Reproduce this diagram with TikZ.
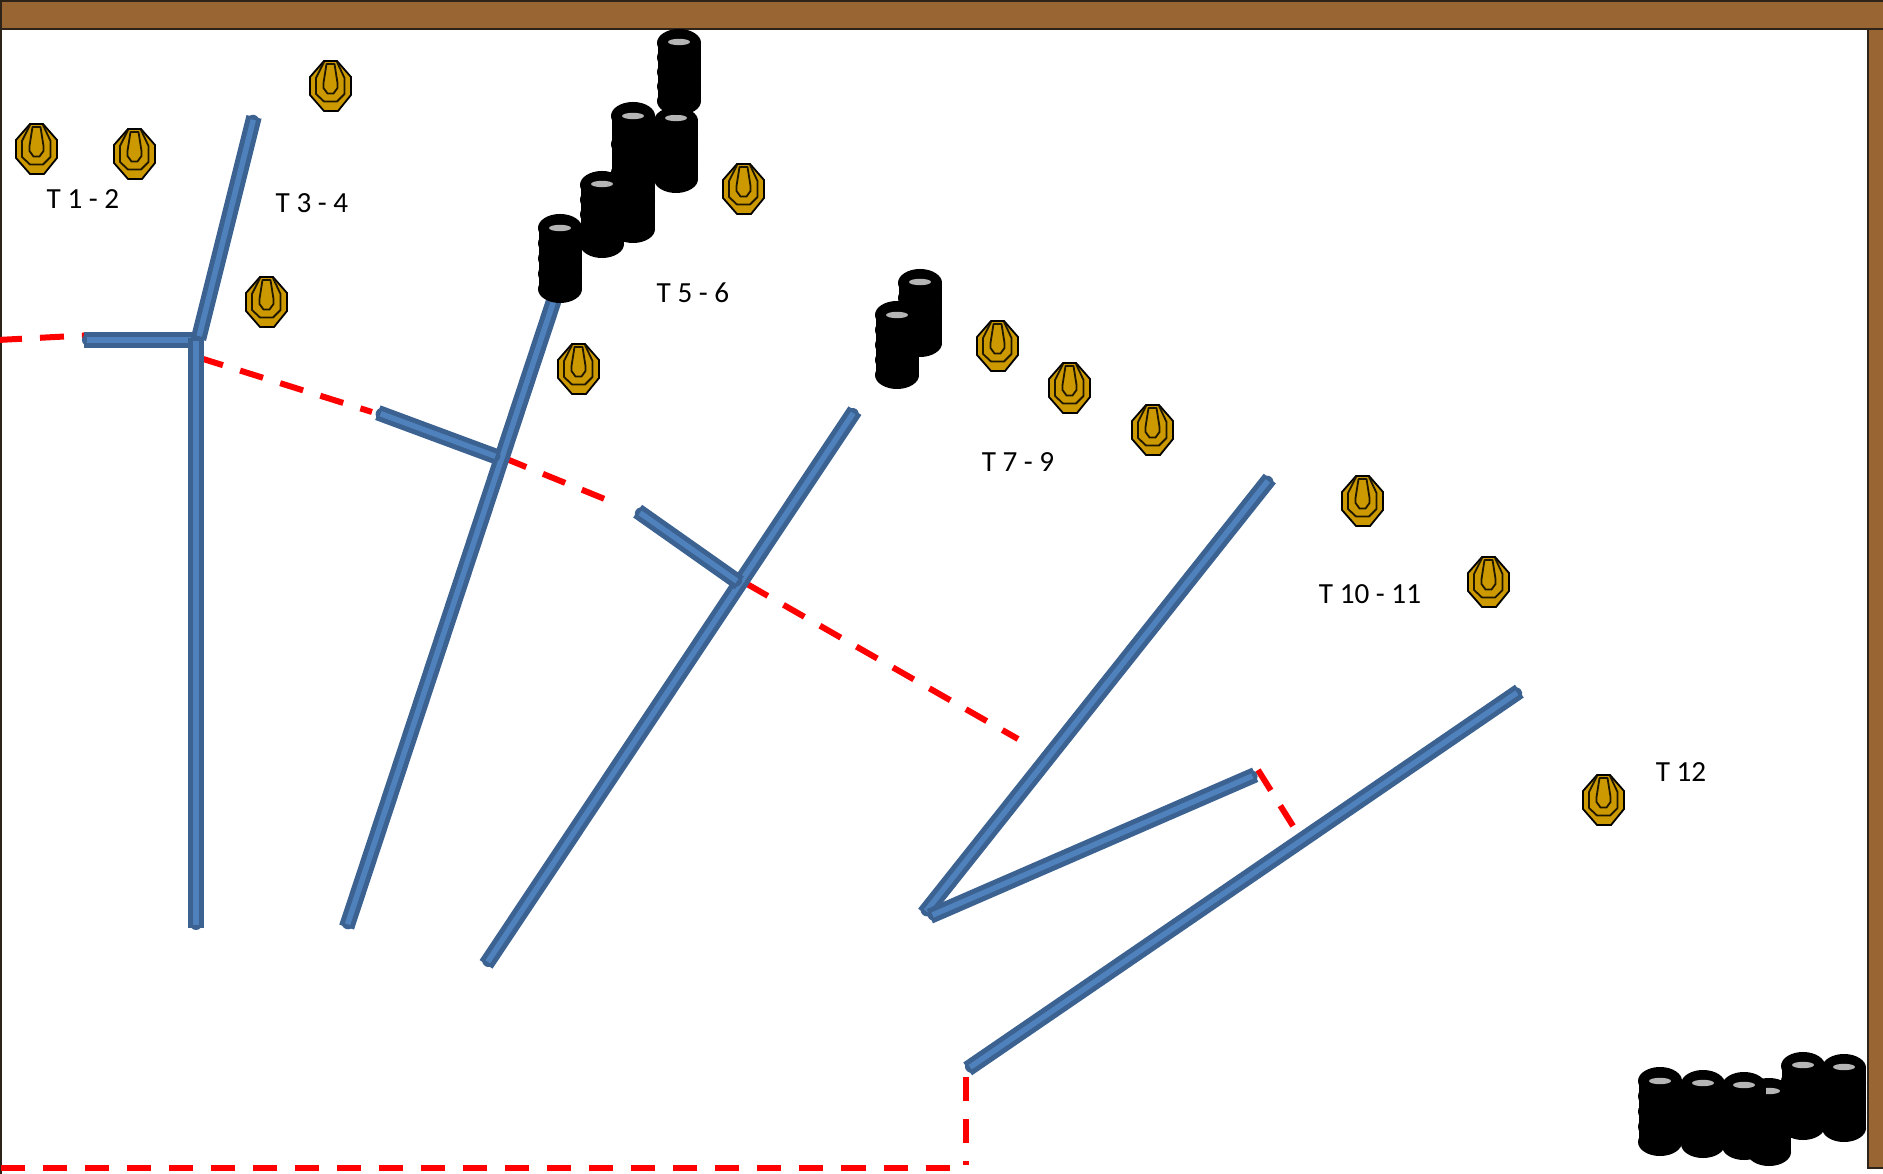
\documentclass[tikz,border=0pt]{standalone}
\usepackage{fontspec}
\setmainfont{Carlito}
\definecolor{woodfill}{HTML}{996633}
\definecolor{wooddark}{HTML}{2E2318}
\definecolor{wallouter}{HTML}{3B6291}
\definecolor{wallinner}{HTML}{4F81BD}
\definecolor{goldfill}{HTML}{CC9900}
\definecolor{holegray}{HTML}{B5B5B5}
\tikzset{
  woodbar/.style={fill=woodfill,draw=wooddark,line width=0.025cm},
  wallout/.style={draw=wallouter,line width=0.155cm,line join=round,shorten <=0.02cm,shorten >=0.02cm},
  wallend/.style={draw=wallouter,line width=0.125cm,line cap=round,shorten <=0.0625cm,shorten >=0.0625cm},
  wallin/.style={draw=wallinner,line width=0.055cm,shorten <=0.05cm,shorten >=0.05cm},
  reddash/.style={draw=red,line width=0.06cm,dash pattern=on 0.24cm off 0.18cm},
  tlabel/.style={font=\fontsize{8.3pt}{10pt}\selectfont,text=black,inner sep=0pt},
  target/.pic={
    \draw[fill=goldfill,draw=black,line width=0.018cm]
      (-6,-25)--(7,-25)--(21,-9)--(21,9)--(8,25)--(-6,25)--(-20,9)--(-20,-9)--cycle;
    \draw[draw=black!85!goldfill,line width=0.018cm,line join=round]
      (-6,-24)--(-14,-8)--(-14,8)--(-6,15.5)--(7,15.5)--(14.5,8)--(14.5,-8)--(7,-24);
    \draw[draw=black!85!goldfill,line width=0.018cm,line join=round]
      (-3.5,-22)--(4.5,-22)--(7.5,-3)--(7.5,2)--(3.5,7.5)--(-2.5,7.5)--(-6.5,2)--(-6.5,-3)--cycle;
  }
}
\newcommand{\wallseg}[2]{\draw[wallout] #1 -- #2; \draw[wallend] #1 -- #2; \draw[wallin] #1 -- #2;}
\newcommand{\barrel}[4]{%
  \fill[black] (#1-21.5,#2+14) rectangle (#1+21.5,#3-14);
  \foreach \i in {0,...,4} {
    \pgfmathsetmacro{\yy}{#2+14+\i*(#3-#2-28)/4}
    \fill[black] (#1,\yy) ellipse [x radius=0.22cm,y radius=0.14cm];
  }
  \fill[holegray] (#1,#4) ellipse [x radius=0.11cm,y radius=0.032cm];
}
\begin{document}
\begin{tikzpicture}[x=0.01cm,y=-0.01cm]
\useasboundingbox (0,0) rectangle (1883,1174);
\clip (0,0) rectangle (1883,1174);
\fill[white] (0,0) rectangle (1883,1174);
% frame
\draw[woodbar] (-3,1) rectangle (1890,29);
\draw[woodbar] (1868,29) rectangle (1890,1168);
\draw[wooddark,line width=0.025cm] (1,0) -- (1,1174);
% red dashes
\draw[reddash] (-2,340) -- (84,335.5);
\draw[reddash] (200,358) -- (372,412);
\draw[reddash] (504,458) -- (612,502);
\draw[reddash] (747,584) -- (1018,739);
\draw[reddash] (1258,770) -- (1293,826);
\draw[reddash] (966,1077) -- (966,1165);
\draw[reddash] (1,1168) -- (966,1168);
% walls
\wallseg{(82,340)}{(196,340)}
\wallseg{(196,336)}{(196,930)}
\wallseg{(254.5,115)}{(198,341)}
\wallseg{(558,288)}{(346,929)}
\wallseg{(376,412)}{(500,458)}
\wallseg{(856,409)}{(485,966)}
\wallseg{(636,510)}{(741,584)}
\wallseg{(1271,477)}{(923,915)}
\wallseg{(1257,774)}{(928,917)}
\wallseg{(1521,690)}{(966,1070)}
% barrels
\barrel{676}{107}{193}{118}
\barrel{679}{29}{115}{42}
\barrel{633}{102}{243}{116}
\barrel{602}{171}{258}{184}
\barrel{560}{214}{303}{228}
\barrel{920}{269}{357}{282}
\barrel{897}{301}{389}{315}
\barrel{1769}{1078}{1166}{1091}
\barrel{1660}{1067}{1156}{1081}
\barrel{1703}{1070}{1158}{1083}
\barrel{1744}{1072}{1160}{1085}
\barrel{1803}{1052}{1140}{1065}
\barrel{1844}{1054}{1142}{1067}
% targets
\pic at (36,149) {target};
\pic at (134,154) {target};
\pic at (330,86) {target};
\pic at (266,302) {target};
\pic at (743,189) {target};
\pic at (578,369) {target};
\pic at (997,346) {target};
\pic at (1069,388) {target};
\pic at (1152,430) {target};
\pic at (1362,501) {target};
\pic at (1488,582) {target};
\pic at (1603,800) {target};
% labels
\node[tlabel] (t12) at (83,199) {T 1 - 2};
\node[tlabel] (t34) at (312,203) {T 3 - 4};
\node[tlabel] (t56) at (693,293) {T 5 - 6};
\node[tlabel] (t79) at (1018,462) {T 7 - 9};
\node[tlabel] (t1011) at (1370,594) {T 10 - 11};
\node[tlabel] (t12b) at (1681,772) {T 12};
\end{tikzpicture}
\end{document}
